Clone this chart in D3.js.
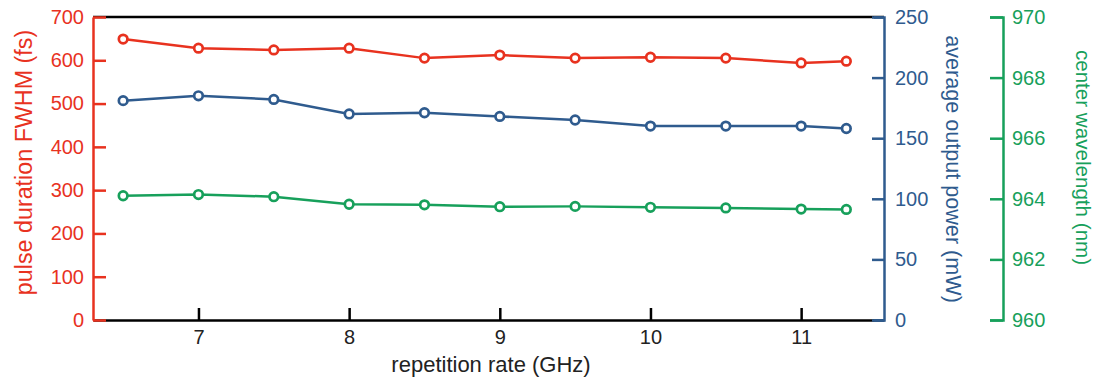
<!DOCTYPE html>
<html><head><meta charset="utf-8">
<script src="https://cdn.jsdelivr.net/npm/d3@7"></script>
<style>
html,body{margin:0;padding:0;background:#fff;}
svg{display:block;font-family:"Liberation Sans",Arial,sans-serif;}
</style></head>
<body><svg id="c" width="1099" height="383"></svg>
<script>
const repRate = [6.5, 7, 7.5, 8, 8.5, 9, 9.5, 10, 10.5, 11, 11.3];
const pulseFWHM = [649, 628, 624, 628, 605, 612, 605, 607, 605, 594, 598];
const avgPower = [181, 185, 182, 170, 171, 168, 165, 160, 160, 160, 158];
const centerWl = [964.10, 964.14, 964.07, 963.82, 963.80, 963.74, 963.75, 963.72, 963.70, 963.66, 963.65];
const xTicks = [7, 8, 9, 10, 11];
const redTicks = [0, 100, 200, 300, 400, 500, 600, 700];
const blueTicks = [0, 50, 100, 150, 200, 250];
const greenTicks = [960, 962, 964, 966, 968, 970];

const RED = "#e8321f", BLUE = "#2f5b8e", GREEN = "#17a05b";
const svg = d3.select("#c");
const L = 93, R = 884, T = 17, B = 320, GX = 1003;
const fs = 20;

const x = d3.scaleLinear().domain([6.3, 11.55]).range([L, R]);
const yR = d3.scaleLinear().domain([0, 700]).range([B, T]);
const yB = d3.scaleLinear().domain([0, 250]).range([B, T]);
const yG = d3.scaleLinear().domain([960, 970]).range([B, T]);

// top frame line
svg.append("line").attr("x1", L).attr("x2", R).attr("y1", T).attr("y2", T)
  .attr("stroke", "#000").attr("stroke-width", 2.5);

// x axis
const gx = svg.append("g").attr("transform", `translate(0,${B})`)
  .call(d3.axisBottom(x).tickValues(xTicks).tickSizeInner(-12).tickSizeOuter(0).tickPadding(10).tickFormat(d3.format("d")));
gx.select(".domain").attr("stroke", "#000").attr("stroke-width", 2.5);
gx.selectAll(".tick line").attr("stroke", "#000").attr("stroke-width", 2.5);
gx.selectAll(".tick text").attr("fill", "#222").attr("font-size", fs).attr("font-family", null);
svg.append("text").attr("x", 491).attr("y", 372).attr("text-anchor", "middle")
  .attr("font-size", 22).attr("fill", "#222").text("repetition rate (GHz)");

function styleAxis(g, color) {
  g.select(".domain").attr("stroke", color).attr("stroke-width", 2.5);
  g.selectAll(".tick line").attr("stroke", color).attr("stroke-width", 2.5);
  g.selectAll(".tick text").attr("fill", color).attr("font-size", fs).attr("font-family", null);
}

// red left axis
const gr = svg.append("g").attr("transform", `translate(${L},0)`)
  .call(d3.axisLeft(yR).tickValues(redTicks).tickSizeInner(-13).tickSizeOuter(0).tickPadding(9));
styleAxis(gr, RED);
svg.append("text").attr("transform", `translate(24,162.5) rotate(-90)`)
  .attr("text-anchor", "middle").attr("dy", "0.35em").attr("font-size", 23.3).attr("fill", RED)
  .text("pulse duration FWHM (fs)");

// blue right axis
const gb = svg.append("g").attr("transform", `translate(${R},0)`)
  .call(d3.axisRight(yB).tickValues(blueTicks).tickSizeInner(-12).tickSizeOuter(-10).tickPadding(11));
styleAxis(gb, BLUE);
svg.append("text").attr("transform", `translate(954,169) rotate(90)`)
  .attr("text-anchor", "middle").attr("dy", "0.35em").attr("font-size", 21.6).attr("fill", BLUE)
  .text("average output power (mW)");

// green far right axis
const gg = svg.append("g").attr("transform", `translate(${GX},0)`)
  .call(d3.axisRight(yG).tickValues(greenTicks).tickSizeInner(-13).tickSizeOuter(-13).tickPadding(9));
styleAxis(gg, GREEN);
svg.append("text").attr("transform", `translate(1083,157.5) rotate(90)`)
  .attr("text-anchor", "middle").attr("dy", "0.35em").attr("font-size", 20.6).attr("fill", GREEN)
  .text("center wavelength (nm)");

function series(vals, y, color) {
  const pts = repRate.map((r, i) => [r, vals[i]]);
  svg.append("path").datum(pts)
    .attr("d", d3.line().x(d => x(d[0])).y(d => y(d[1])))
    .attr("fill", "none").attr("stroke", color).attr("stroke-width", 2.5);
  svg.append("g").selectAll("circle").data(pts).join("circle")
    .attr("cx", d => x(d[0])).attr("cy", d => y(d[1])).attr("r", 4.3)
    .attr("fill", "#fff").attr("stroke", color).attr("stroke-width", 2.7);
}
series(pulseFWHM, yR, RED);
series(avgPower, yB, BLUE);
series(centerWl, yG, GREEN);
</script></body></html>
